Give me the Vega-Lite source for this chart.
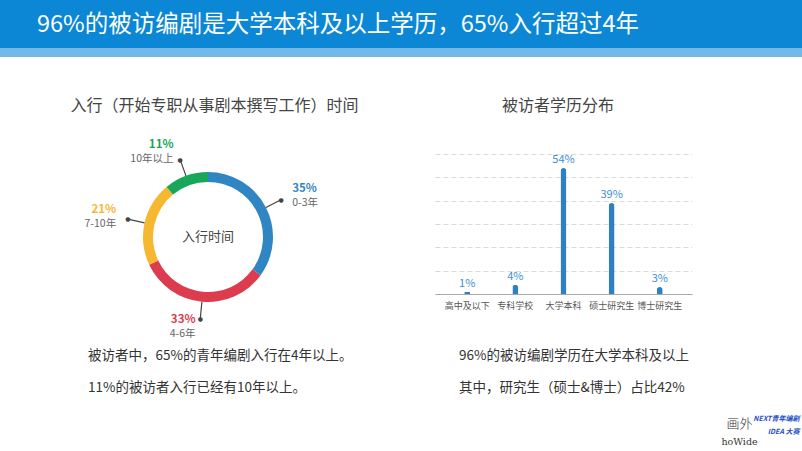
{
  "$schema": "https://vega.github.io/schema/vega-lite/v6.json",
  "padding": 0,
  "background": "#ffffff",
  "spacing": 0,
  "config": {
    "view": {"stroke": null},
    "font": "Noto Sans CJK SC",
    "axis": {"labelFont": "Noto Sans CJK SC"},
    "text": {"font": "Noto Sans CJK SC"}
  },
  "vconcat": [
    {
      "width": 802,
      "height": 48,
      "view": {"fill": "#0b87d6", "stroke": null},
      "data": {"values": [{"t": "96%的被访编剧是大学本科及以上学历，65%入行超过4年"}]},
      "mark": {"type": "text", "align": "left", "baseline": "middle", "dx": -364, "dy": 1, "fontSize": 23.5, "color": "#ffffff"},
      "encoding": {"text": {"field": "t"}}
    },
    {
      "width": 802,
      "height": 9,
      "view": {"fill": "#72b9e7", "stroke": null},
      "data": {"values": []},
      "mark": "text"
    },
    {
      "width": 802,
      "height": 30,
      "data": {"values": []},
      "mark": "text"
    },
    {
      "spacing": 19,
      "hconcat": [
        {
          "width": 416,
          "height": 38,
          "data": {"values": [{"t": "入行（开始专职从事剧本撰写工作）时间"}]},
          "mark": {"type": "text", "baseline": "middle", "dx": 6.5, "fontSize": 16, "color": "#444444"},
          "encoding": {"text": {"field": "t"}}
        },
        {
          "width": 257,
          "height": 38,
          "data": {"values": [{"t": "被访者学历分布"}]},
          "mark": {"type": "text", "baseline": "middle", "dx": -5.5, "fontSize": 16, "color": "#444444"},
          "encoding": {"text": {"field": "t"}}
        }
      ]
    },
    {
      "spacing": 19,
      "hconcat": [
        {
          "width": 416,
          "height": 224,
          "data": {
            "values": [
              {"cat": "0-3年", "pct": 35},
              {"cat": "4-6年", "pct": 33},
              {"cat": "7-10年", "pct": 21},
              {"cat": "10年以上", "pct": 11}
            ]
          },
          "transform": [
            {"window": [{"op": "sum", "field": "pct", "as": "end"}], "frame": [null, 0]},
            {"calculate": "datum.end - datum.pct", "as": "start"},
            {"calculate": "(datum.start + datum.end) / 2", "as": "mid"},
            {"calculate": "datum.pct + '%'", "as": "label"}
          ],
          "layer": [
            {
              "mark": {"type": "arc", "outerRadius": 65, "innerRadius": 55},
              "encoding": {
                "theta": {"field": "start", "type": "quantitative", "stack": null, "scale": {"domain": [0, 100]}},
                "theta2": {"field": "end"},
                "color": {
                  "field": "cat",
                  "type": "nominal",
                  "scale": {"domain": ["0-3年", "4-6年", "7-10年", "10年以上"], "range": ["#3086c3", "#dd3b4e", "#f6b731", "#18a65a"]},
                  "legend": null
                }
              }
            },
            {
              "mark": {"type": "arc", "outerRadius": 82, "innerRadius": 65, "stroke": "#444444", "strokeWidth": 1.2, "fillOpacity": 0},
              "encoding": {
                "theta": {"field": "mid", "type": "quantitative", "stack": null, "scale": {"domain": [0, 100]}},
                "theta2": {"field": "mid"}
              }
            },
            {
              "mark": {"type": "text", "text": "●", "radius": 82, "fontSize": 6, "font": "DejaVu Sans", "color": "#444444", "baseline": "middle"},
              "encoding": {
                "theta": {"field": "mid", "type": "quantitative", "stack": null, "scale": {"domain": [0, 100]}}
              }
            },
            {
              "transform": [{"filter": "datum.mid < 50"}],
              "mark": {"type": "text", "radius": 90, "align": "left", "baseline": "middle", "dx": 4, "dy": -7, "fontSize": 11.5, "fontWeight": "bold"},
              "encoding": {
                "theta": {"field": "mid", "type": "quantitative", "stack": null, "scale": {"domain": [0, 100]}},
                "text": {"field": "label"},
                "color": {"field": "cat", "type": "nominal", "legend": null}
              }
            },
            {
              "transform": [{"filter": "datum.mid >= 50"}],
              "mark": {"type": "text", "radius": 90, "align": "right", "baseline": "middle", "dx": -4, "dy": -7, "fontSize": 11.5, "fontWeight": "bold"},
              "encoding": {
                "theta": {"field": "mid", "type": "quantitative", "stack": null, "scale": {"domain": [0, 100]}},
                "text": {"field": "label"},
                "color": {"field": "cat", "type": "nominal", "legend": null}
              }
            },
            {
              "transform": [{"filter": "datum.mid < 50"}],
              "mark": {"type": "text", "radius": 90, "align": "left", "baseline": "middle", "dx": 4, "dy": 7, "fontSize": 10.5, "color": "#666666"},
              "encoding": {
                "theta": {"field": "mid", "type": "quantitative", "stack": null, "scale": {"domain": [0, 100]}},
                "text": {"field": "cat"}
              }
            },
            {
              "transform": [{"filter": "datum.mid >= 50"}],
              "mark": {"type": "text", "radius": 90, "align": "right", "baseline": "middle", "dx": -4, "dy": 7, "fontSize": 10.5, "color": "#666666"},
              "encoding": {
                "theta": {"field": "mid", "type": "quantitative", "stack": null, "scale": {"domain": [0, 100]}},
                "text": {"field": "cat"}
              }
            },
            {
              "data": {"values": [{"t": "入行时间"}]},
              "mark": {"type": "text", "fontSize": 13, "color": "#444444", "baseline": "middle"},
              "encoding": {"text": {"field": "t"}}
            }
          ]
        },
        {
          "width": 257,
          "height": 169,
          "data": {
            "values": [
              {"edu": "高中及以下", "pct": 1},
              {"edu": "专科学校", "pct": 4},
              {"edu": "大学本科", "pct": 54},
              {"edu": "硕士研究生", "pct": 39},
              {"edu": "博士研究生", "pct": 3}
            ]
          },
          "transform": [{"calculate": "datum.pct + '%'", "as": "label"}],
          "encoding": {
            "x": {
              "field": "edu",
              "type": "nominal",
              "sort": null,
              "scale": {"paddingInner": 0, "paddingOuter": 0.17},
              "axis": {"title": null, "labelAngle": 0, "ticks": false, "domainColor": "#a8a8a8", "labelColor": "#555555", "labelFontSize": 9, "labelPadding": 7}
            },
            "y": {
              "field": "pct",
              "type": "quantitative",
              "scale": {"domain": [0, 72.43], "nice": false},
              "axis": {"title": null, "labels": false, "ticks": false, "domain": false, "grid": true, "gridDash": [5, 3], "gridColor": "#dadada", "values": [10, 20, 30, 40, 50, 60]}
            }
          },
          "layer": [
            {"mark": {"type": "bar", "width": 6, "cornerRadiusTopLeft": 3, "cornerRadiusTopRight": 3, "color": "#2f80c0"}},
            {
              "mark": {"type": "text", "baseline": "bottom", "dy": -3, "color": "#3d8fd0", "fontSize": 11},
              "encoding": {"text": {"field": "label"}}
            }
          ]
        }
      ]
    },
    {
      "spacing": 19,
      "hconcat": [
        {
          "width": 416,
          "height": 64,
          "data": {
            "values": [
              {"line": "1", "t": "被访者中，65%的青年编剧入行在4年以上。"},
              {"line": "2", "t": "11%的被访者入行已经有10年以上。"}
            ]
          },
          "mark": {"type": "text", "align": "left", "baseline": "middle", "dx": -120, "dy": -10, "fontSize": 13.5, "color": "#333333"},
          "encoding": {
            "y": {"field": "line", "type": "nominal", "axis": null, "scale": {"paddingInner": 0, "paddingOuter": 0}},
            "text": {"field": "t"}
          }
        },
        {
          "width": 257,
          "height": 64,
          "data": {
            "values": [
              {"line": "1", "t": "96%的被访编剧学历在大学本科及以上"},
              {"line": "2", "t": "其中，研究生（硕士&博士）占比42%"}
            ]
          },
          "mark": {"type": "text", "align": "left", "baseline": "middle", "dx": -104.5, "dy": -10, "fontSize": 13.5, "color": "#333333"},
          "encoding": {
            "y": {"field": "line", "type": "nominal", "axis": null, "scale": {"paddingInner": 0, "paddingOuter": 0}},
            "text": {"field": "t"}
          }
        }
      ]
    },
    {
      "spacing": 0,
      "hconcat": [
        {"width": 712, "height": 38, "data": {"values": []}, "mark": "text"},
        {
          "width": 90,
          "height": 38,
          "data": {
            "values": [
              {"brand": "画外", "line": "a", "t": "画外"},
              {"brand": "画外", "line": "b", "t": "hoWide"},
              {"brand": "NEXT", "line": "a", "t": "NEXT青年编剧"},
              {"brand": "NEXT", "line": "b", "t": "IDEA 大赛"}
            ]
          },
          "encoding": {
            "x": {"field": "brand", "type": "nominal", "sort": null, "axis": null, "scale": {"paddingInner": 0, "paddingOuter": 0}},
            "y": {"field": "line", "type": "nominal", "axis": null, "scale": {"paddingInner": 0, "paddingOuter": 0}}
          },
          "layer": [
            {"transform": [{"filter": "datum.t == '画外'"}], "mark": {"type": "text", "fontSize": 13, "dx": 5, "dy": -3, "color": "#333333", "fontWeight": 300}, "encoding": {"text": {"field": "t"}}},
            {"transform": [{"filter": "datum.t == 'hoWide'"}], "mark": {"type": "text", "fontSize": 9.5, "dx": 5, "dy": -4, "color": "#333333", "font": "DejaVu Serif"}, "encoding": {"text": {"field": "t"}}},
            {"transform": [{"filter": "datum.brand == 'NEXT' && datum.line == 'a'"}], "mark": {"type": "text", "align": "right", "dx": 20, "dy": -8, "fontSize": 7, "color": "#1f4fc7", "fontWeight": "bold", "fontStyle": "italic"}, "encoding": {"text": {"field": "t"}}},
            {"transform": [{"filter": "datum.brand == 'NEXT' && datum.line == 'b'"}], "mark": {"type": "text", "align": "right", "dx": 20, "dy": -14, "fontSize": 7, "color": "#1f4fc7", "fontWeight": "bold", "fontStyle": "italic"}, "encoding": {"text": {"field": "t"}}}
          ]
        }
      ]
    }
  ]
}
